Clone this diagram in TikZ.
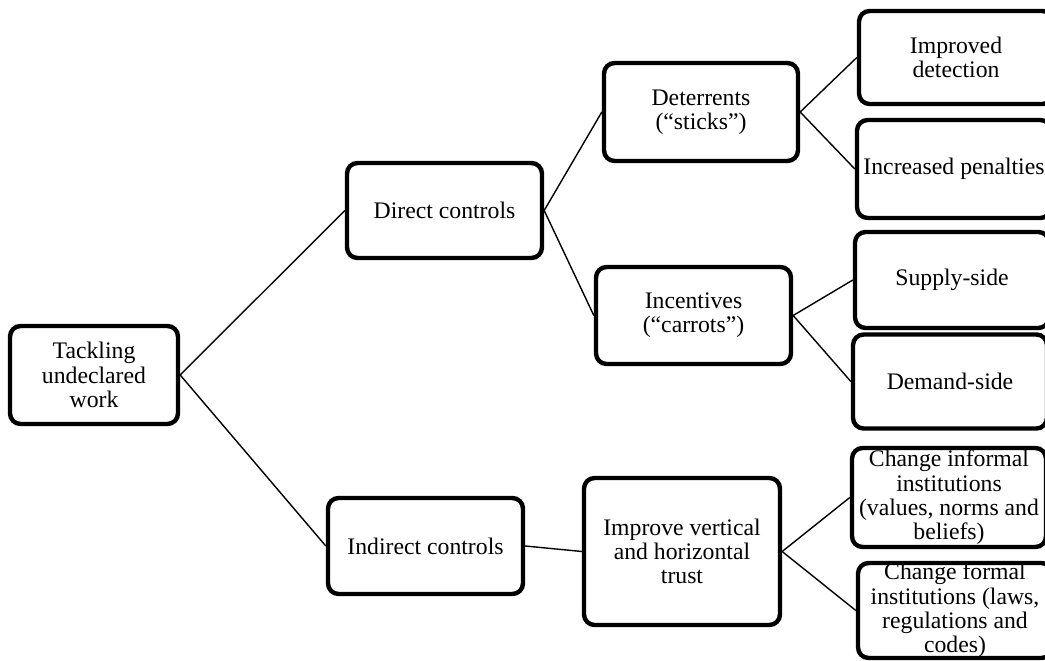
\documentclass[tikz,border=0pt]{standalone}
\usepackage{fontspec}
\setmainfont{Liberation Serif}
\usepackage{tikz}
\usetikzlibrary{positioning}

\begin{document}
\begin{tikzpicture}[x=0.02cm, y=-0.02cm,
    box/.style={draw, line width=2.5pt, rounded corners=6pt, align=center,
      inner sep=0pt, minimum width=3.9cm, minimum height=1.9cm,
      font=\fontsize{13.5}{13.8}\selectfont},
    link/.style={line width=0.8pt}]
    \useasboundingbox (0,0) rectangle (1045,661);

    % Root
    \node[box, minimum width=3.36cm, minimum height=1.96cm] (tackle) at (94,375)
        {Tackling\\undeclared\\work};

    % Second level
    \node[box] (direct) at (444.5,210.5) {Direct controls};
    \node[box, minimum height=1.92cm] (indirect) at (425.5,546) {Indirect controls};

    % Third level
    \node[box, minimum width=3.88cm, minimum height=1.96cm] (deter) at (701,112)
        {Deterrents\\(“sticks”)};
    \node[box, minimum height=1.94cm] (incent) at (693.5,315.5)
        {Incentives\\(“carrots”)};
    \node[box, minimum width=3.92cm, minimum height=2.94cm] (trust) at (682,551.5)
        {Improve vertical\\and horizontal\\trust};

    % Fourth level
    \node[box, minimum width=3.88cm, minimum height=1.86cm] (detect) at (956,57.5)
        {Improved\\detection};
    \node[box, minimum width=3.88cm, minimum height=1.96cm] (penal) at (954,169)
        {Increased penalties};
    \node[box, minimum width=3.88cm, minimum height=1.92cm] (supply) at (952,280)
        {Supply-side};
    \node[box, minimum width=3.88cm, minimum height=1.88cm] (demand) at (950,381.5)
        {Demand-side};
    \node[box, minimum width=3.88cm, minimum height=1.98cm] (informal) at (949,497.5)
        {Change informal\\institutions\\(values, norms and\\beliefs)};
    \node[box, minimum width=3.88cm, minimum height=1.9cm] (formal) at (955,610.5)
        {Change formal\\institutions (laws,\\regulations and\\codes)};

    % Connectors
    \draw[link] (tackle.east) -- (direct.west);
    \draw[link] (tackle.east) -- (indirect.west);
    \draw[link] (direct.east) -- (deter.west);
    \draw[link] (direct.east) -- (incent.west);
    \draw[link] (indirect.east) -- (trust.west);
    \draw[link] (deter.east) -- (detect.west);
    \draw[link] (deter.east) -- (penal.west);
    \draw[link] (incent.east) -- (supply.west);
    \draw[link] (incent.east) -- (demand.west);
    \draw[link] (trust.east) -- (informal.west);
    \draw[link] (trust.east) -- (formal.west);
\end{tikzpicture}
\end{document}
